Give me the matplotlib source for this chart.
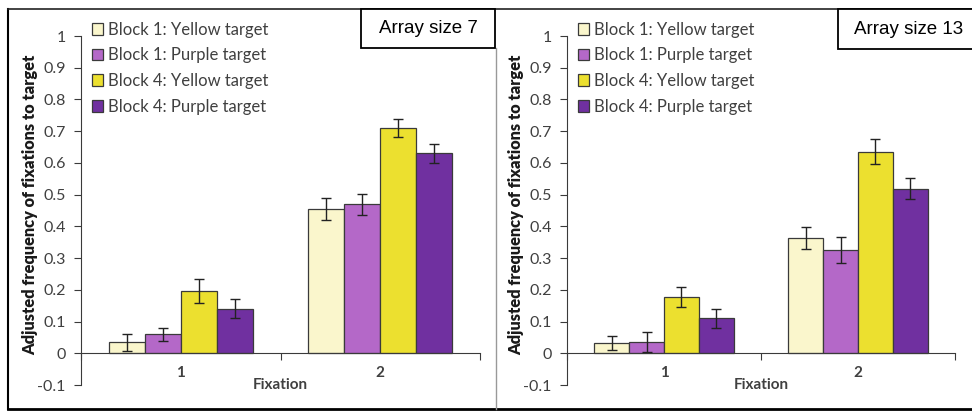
import matplotlib.pyplot as plt
from matplotlib.patches import Rectangle
import numpy as np

# fixation index on the x axis
fixations = [1, 2]
series_names = ['Block 1: Yellow target', 'Block 1: Purple target',
                'Block 4: Yellow target', 'Block 4: Purple target']
series_colors = ['#faf6cc', '#b468c8', '#ece02f', '#7030a0']

# array size 7: means per series, one value per fixation
size7_means = [[0.035, 0.455], [0.060, 0.470], [0.195, 0.710], [0.140, 0.630]]
size7_errs = [[0.027, 0.035], [0.020, 0.033], [0.038, 0.027], [0.030, 0.030]]

# array size 13
size13_means = [[0.033, 0.363], [0.035, 0.325], [0.178, 0.635], [0.110, 0.518]]
size13_errs = [[0.022, 0.035], [0.032, 0.040], [0.032, 0.040], [0.030, 0.033]]

yticks = [-0.1, 0, 0.1, 0.2, 0.3, 0.4, 0.5, 0.6, 0.7, 0.8, 0.9, 1]
ytick_labels = ['-0.1', '0', '0.1', '0.2', '0.3', '0.4', '0.5', '0.6', '0.7', '0.8', '0.9', '1']

W, H = 972, 411
fig = plt.figure(figsize=(W / 100, H / 100), dpi=100)
fig.patch.set_facecolor('white')

calib = ['Lato', 'DejaVu Sans']
txt_col = '#404040'


def px(x0, y0, x1, y1):
    # pixel box (top-left origin) -> figure fraction rect
    return [x0 / W, 1 - y1 / H, (x1 - x0) / W, (y1 - y0) / H]


def panel(rect, means, errs, title, title_box, ylab_x):
    ax = fig.add_axes(rect)
    bw = 0.18
    x = np.array(fixations, dtype=float)
    for i in range(4):
        offs = (i - 1.5) * bw
        ax.bar(x + offs, means[i], bw, color=series_colors[i], edgecolor='#3a3a3a',
               linewidth=0.9, label=series_names[i], zorder=2)
        ax.errorbar(x + offs, means[i], yerr=errs[i], fmt='none', ecolor='#222222',
                    elinewidth=1.0, capsize=3.5, capthick=1.0, zorder=3)
    ax.set_xlim(0.5, 2.5)
    ax.set_ylim(-0.1, 1.0)
    for s in ['top', 'right']:
        ax.spines[s].set_visible(False)
    ax.spines['bottom'].set_position(('data', 0))
    ax.spines['left'].set_color('#3a3a3a')
    ax.spines['bottom'].set_color('#3a3a3a')
    ax.set_yticks(yticks)
    ax.set_yticklabels(ytick_labels, family=calib, fontsize=11.5, color=txt_col)
    ax.tick_params(axis='y', direction='out', length=5, color='#3a3a3a', pad=6)
    ax.set_xticks([0.5, 1.5, 2.5])
    ax.set_xticklabels([])
    ax.tick_params(axis='x', which='major', direction='out', length=5, color='#3a3a3a')
    ax.set_xticks(fixations, minor=True)
    ax.set_xticklabels([str(f) for f in fixations], minor=True, family=calib,
                       fontsize=11, fontweight='bold', color=txt_col)
    ax.tick_params(axis='x', which='minor', length=0, pad=9)
    ax.text(1.5, -0.1, 'Fixation', ha='center', va='center', family=calib,
            fontsize=11, fontweight='bold', color=txt_col)
    leg = ax.legend(loc='upper left', bbox_to_anchor=(0.01, 1.06), frameon=False,
                    prop={'family': calib, 'size': 12}, handlelength=0.7,
                    handleheight=0.7, handletextpad=0.3, labelspacing=0.58,
                    borderaxespad=0)
    for t in leg.get_texts():
        t.set_color(txt_col)
    fig.text(ylab_x / W, 1 - 205 / H, 'Adjusted frequency of fixations to target',
             rotation=90, ha='center', va='center', family=calib, fontsize=11.8,
             fontweight='heavy', color='#1a1a1a')
    bx0, by0, bx1, by1 = title_box
    fig.patches.append(Rectangle((bx0 / W, 1 - by1 / H), (bx1 - bx0) / W, (by1 - by0) / H,
                                 transform=fig.transFigure, facecolor='white',
                                 edgecolor='black', linewidth=1.3, zorder=5))
    fig.text((bx0 + bx1) / 2 / W, 1 - (by0 + by1) / 2 / H, title, ha='center',
             va='center', family='Liberation Sans', fontsize=13.5, color='black', zorder=6)
    return ax


panel(px(81, 36, 480, 385), size7_means, size7_errs, 'Array size 7',
      (361, 9, 495, 48), 30)
panel(px(567, 36, 955, 385), size13_means, size13_errs, 'Array size 13',
      (838, 9, 980, 49), 516)

# outer frame and divider between the two panels
fig.add_artist(plt.Line2D([8 / W, 8 / W], [1 - 9 / H, 1 - 409 / H], color='black', lw=1.5))
fig.add_artist(plt.Line2D([8 / W, 1], [1 - 9 / H, 1 - 9 / H], color='#222222', lw=1.2))
fig.add_artist(plt.Line2D([8 / W, 1], [1 - 409 / H, 1 - 409 / H], color='black', lw=2))
fig.add_artist(plt.Line2D([496 / W, 496 / W], [1 - 48 / H, 1 - 409 / H], color='#999999', lw=1))

fig.savefig('out.png', dpi=100)
